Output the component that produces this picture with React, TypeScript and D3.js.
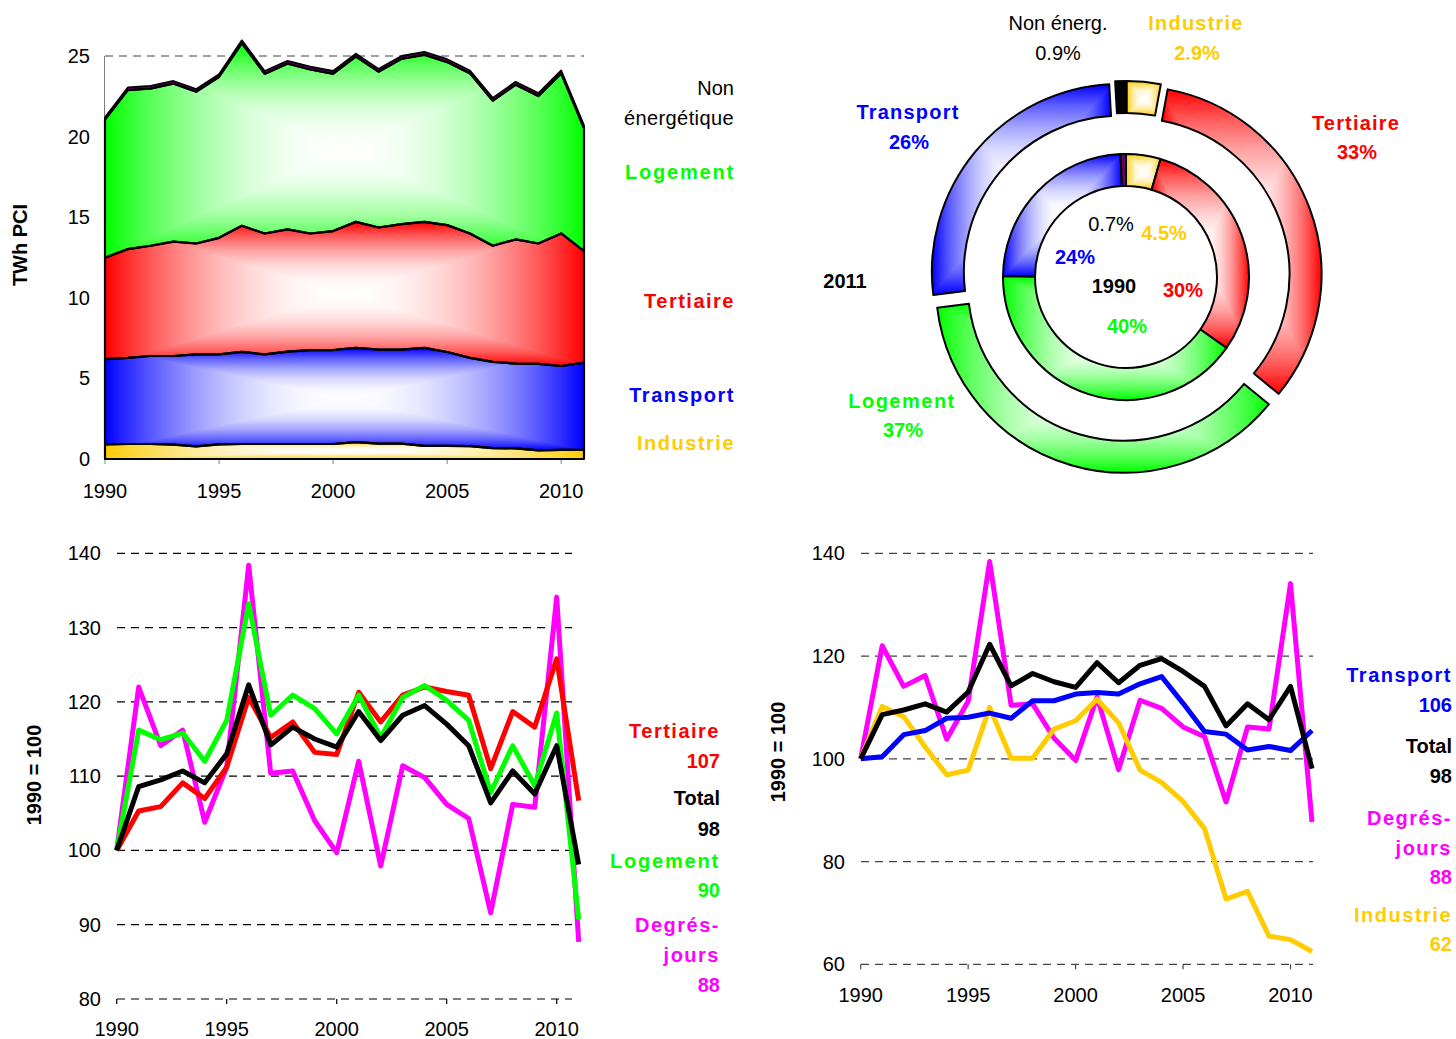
import React from 'react';
import * as d3 from 'd3';

const FONT = "'Liberation Sans', Arial, Helvetica, sans-serif";

// ---------- Data ----------
const YEARS = [1990, 1991, 1992, 1993, 1994, 1995, 1996, 1997, 1998, 1999, 2000, 2001, 2002, 2003, 2004, 2005, 2006, 2007, 2008, 2009, 2010, 2011];
const X_TICKS = [1990, 1995, 2000, 2005, 2010];

// Consumption in TWh PCI by sector (stacked area)
const industrie = [0.91, 0.93, 0.93, 0.89, 0.78, 0.91, 0.93, 0.93, 0.93, 0.93, 0.93, 1.05, 0.95, 0.95, 0.82, 0.82, 0.80, 0.68, 0.66, 0.54, 0.56, 0.56];
const transport = [5.28, 5.34, 5.46, 5.50, 5.71, 5.58, 5.71, 5.56, 5.73, 5.83, 5.83, 5.84, 5.83, 5.83, 6.07, 5.82, 5.47, 5.34, 5.26, 5.36, 5.21, 5.42];
const tertiaire = [6.30, 6.75, 6.84, 7.09, 6.88, 7.23, 7.83, 7.50, 7.58, 7.23, 7.38, 7.82, 7.58, 7.79, 7.82, 7.87, 7.72, 7.21, 7.70, 7.47, 8.22, 6.92];
const logement = [8.56, 9.86, 9.75, 9.80, 9.41, 9.98, 11.32, 9.90, 10.28, 10.17, 9.75, 10.25, 9.66, 10.25, 10.36, 10.11, 9.93, 8.99, 9.59, 9.14, 9.92, 7.61];
const nonEnergetique = [0.15, 0.17, 0.17, 0.17, 0.17, 0.17, 0.18, 0.18, 0.18, 0.18, 0.18, 0.18, 0.18, 0.18, 0.18, 0.18, 0.18, 0.18, 0.19, 0.19, 0.19, 0.19];
const AREA_Y_TICKS = [0, 5, 10, 15, 20, 25];

// Indices 1990 = 100
const idxTotal = [100, 108.6, 109.5, 110.7, 109.1, 113.0, 122.3, 114.2, 116.6, 115.0, 113.9, 118.7, 114.8, 118.2, 119.5, 117.0, 114.1, 106.4, 110.7, 107.6, 114.1, 98.1];
const idxTertiaire = [100, 105.3, 105.9, 109.1, 107.0, 111.2, 120.6, 115.2, 117.3, 113.2, 112.9, 121.3, 117.3, 120.9, 122.0, 121.4, 120.9, 111.0, 118.7, 116.6, 125.8, 106.7];
const idxLogement = [100, 116.2, 114.9, 115.8, 112.0, 117.5, 133.2, 118.2, 120.9, 119.1, 115.7, 120.9, 115.2, 120.6, 122.2, 120.2, 117.5, 107.8, 114.1, 108.7, 118.5, 90.7];
const idxDegresJours = [100, 122.0, 114.1, 116.2, 103.8, 111.2, 138.4, 110.4, 110.7, 104.0, 99.7, 112.0, 97.9, 111.4, 109.8, 106.2, 104.3, 91.6, 106.2, 105.8, 134.1, 87.7];
const idxTransport = [100, 100.4, 104.7, 105.5, 107.9, 108.1, 108.9, 107.9, 111.3, 111.3, 112.6, 112.9, 112.6, 114.6, 116.0, 110.8, 105.3, 104.8, 101.7, 102.4, 101.6, 105.5];
const idxIndustrie = [100, 110.2, 108.2, 102.3, 96.9, 97.8, 110.0, 100.1, 100.1, 105.8, 107.4, 111.6, 107.0, 97.8, 95.4, 91.7, 86.4, 72.7, 74.2, 65.5, 64.8, 62.5];
const BL_Y_TICKS = [80, 90, 100, 110, 120, 130, 140];
const BR_Y_TICKS = [60, 80, 100, 120, 140];

// Labels shown for the last year (as printed on the chart)
const lastLabelsLeft = { tertiaire: 107, total: 98, logement: 90, dj: 88 };
const lastLabelsRight = { transport: 106, total: 98, dj: 88, industrie: 62 };

// Doughnut shares (%), clockwise from 12 o'clock
const ringCategories = ['Industrie', 'Tertiaire', 'Logement', 'Transport', 'Non énerg.'];
const share1990 = [4.5, 30, 40, 24, 0.7];
const share2011 = [2.9, 33, 37, 26, 0.9];

// ---------- Colours ----------
const C: any = {
  industrie: '#FFCC00',
  transport: '#0000FF',
  tertiaire: '#FF0000',
  logement: '#00FF00',
  nonEnerg: '#660066',
  total: '#000000',
  dj: '#FF00FF',
};
const ringColors = [C.industrie, C.tertiaire, C.logement, C.transport];

const STEPS = [0, 0.1, 0.2, 0.3, 0.4, 0.5, 0.6, 0.7, 0.8, 0.9, 1];

// Rectangular "from centre" path gradient: colour at bbox edges, white at centre
function PathGradFill(props: any) {
  const { id, x0, y0, x1, y1, color } = props;
  const cx = (x0 + x1) / 2;
  const cy = (y0 + y1) / 2;
  const mix = d3.interpolateRgb('#ffffff', color);
  const edgeToCentre = STEPS.map((p) => ({ o: p, c: mix((1 - p) * (1 - p)) }));
  const sym = STEPS.map((p) => {
    const t = Math.abs(2 * p - 1);
    return { o: p, c: mix(t * t) };
  });
  return (
    <g>
      <defs>
        <linearGradient id={`${id}-v`} gradientUnits="userSpaceOnUse" x1={0} y1={y0} x2={0} y2={y1}>
          {sym.map((s, i) => (
            <stop key={i} offset={s.o} stopColor={s.c} />
          ))}
        </linearGradient>
        <linearGradient id={`${id}-l`} gradientUnits="userSpaceOnUse" x1={x0} y1={0} x2={cx} y2={0}>
          {edgeToCentre.map((s, i) => (
            <stop key={i} offset={s.o} stopColor={s.c} />
          ))}
        </linearGradient>
        <linearGradient id={`${id}-r`} gradientUnits="userSpaceOnUse" x1={x1} y1={0} x2={cx} y2={0}>
          {edgeToCentre.map((s, i) => (
            <stop key={i} offset={s.o} stopColor={s.c} />
          ))}
        </linearGradient>
      </defs>
      <rect x={x0 - 2} y={y0 - 2} width={x1 - x0 + 4} height={y1 - y0 + 4} fill={color} />
      <rect x={x0} y={y0} width={x1 - x0} height={y1 - y0} fill={`url(#${id}-v)`} />
      <polygon points={`${x0},${y0} ${cx},${cy} ${x0},${y1}`} fill={`url(#${id}-l)`} />
      <polygon points={`${x1},${y0} ${cx},${cy} ${x1},${y1}`} fill={`url(#${id}-r)`} />
    </g>
  );
}

function Txt(props: any) {
  const { x, y, children, anchor = 'middle', bold = false, color = '#000', size = 20, ls = 0, rotate = 0 } = props;
  return (
    <text
      x={rotate ? 0 : x}
      y={rotate ? 0 : y}
      transform={rotate ? `translate(${x},${y}) rotate(${rotate})` : undefined}
      textAnchor={anchor}
      dominantBaseline="central"
      fontWeight={bold ? 'bold' : 'normal'}
      fill={color}
      fontSize={size}
      letterSpacing={ls}
      fontFamily={FONT}
    >
      {children}
    </text>
  );
}

function arcBBox(a: any, ri: number, ro: number) {
  const xs: number[] = [];
  const ys: number[] = [];
  const n = 60;
  for (let k = 0; k <= n; k++) {
    const ang = a.startAngle + ((a.endAngle - a.startAngle) * k) / n;
    for (const r of [ri, ro]) {
      xs.push(r * Math.sin(ang));
      ys.push(-r * Math.cos(ang));
    }
  }
  return { x0: d3.min(xs) as number, x1: d3.max(xs) as number, y0: d3.min(ys) as number, y1: d3.max(ys) as number };
}

export default function App() {
  // ----- Area chart -----
  const xA = d3.scaleLinear().domain([1990, 2011]).range([105, 584]);
  const yA = d3.scaleLinear().domain([0, 25]).range([459, 56]);
  const rows = YEARS.map((year, i) => ({
    year,
    industrie: industrie[i],
    transport: transport[i],
    tertiaire: tertiaire[i],
    logement: logement[i],
    nonEnerg: nonEnergetique[i],
  }));
  const keys = ['industrie', 'transport', 'tertiaire', 'logement', 'nonEnerg'];
  const stacked: any[] = (d3.stack() as any).keys(keys)(rows);
  const areaGen: any = d3
    .area()
    .x((d: any) => xA(d.data.year))
    .y0((d: any) => yA(d[0]))
    .y1((d: any) => yA(d[1]));

  const bands = stacked.map((layer: any) => {
    const top = yA(d3.max(layer, (d: any) => d[1]) as number);
    const bot = yA(d3.min(layer, (d: any) => d[0]) as number);
    return { key: layer.key, d: areaGen(layer), top, bot };
  });

  // ----- Bottom-left line chart -----
  const xL = d3.scaleLinear().domain([1990, 2011]).range([116.7, 578.7]);
  const yL = d3.scaleLinear().domain([80, 140]).range([999, 553.3]);
  const lineL: any = (vals: number[]) =>
    d3.line<number>().x((_, i) => xL(YEARS[i])).y((v) => yL(v))(vals);

  // ----- Bottom-right line chart -----
  const xR = d3.scaleLinear().domain([1990, 2011]).range([860.7, 1312]);
  const yR = d3.scaleLinear().domain([60, 140]).range([964.3, 553.3]);
  const lineR: any = (vals: number[]) =>
    d3.line<number>().x((_, i) => xR(YEARS[i])).y((v) => yR(v))(vals);

  // ----- Doughnut -----
  const cx = 1126;
  const cy = 277;
  const pie = d3.pie<number>().sort(null).value((d) => d);
  const innerArcs = pie(share1990);
  const outerArcs = pie(share2011);
  const RI_IN = 91, RO_IN = 123, RI_OUT = 156, RO_OUT = 188;
  const arcIn: any = d3.arc().innerRadius(RI_IN).outerRadius(RO_IN);
  const arcOut: any = d3.arc().innerRadius(RI_OUT).outerRadius(RO_OUT);
  const explode = 8;

  const lineProps = { fill: 'none', strokeWidth: 5, strokeLinejoin: 'round' as const };

  return (
    <div style={{ position: 'absolute', left: 0, top: 0 }}>
      <svg width={1456} height={1039} style={{ display: 'block', background: '#fff' }} fontFamily={FONT}>
        <defs>
          {bands.map((b) => (
            <clipPath key={b.key} id={`clip-${b.key}`}>
              <path d={b.d} />
            </clipPath>
          ))}
          {innerArcs.map((a, i) => (
            <clipPath key={i} id={`clipin-${i}`}>
              <path d={arcIn(a)} />
            </clipPath>
          ))}
          {outerArcs.map((a, i) => (
            <clipPath key={i} id={`clipout-${i}`}>
              <path d={arcOut(a)} />
            </clipPath>
          ))}
        </defs>

        {/* ================= Top-left: stacked area ================= */}
        <line x1={xA(1990)} x2={xA(2011)} y1={yA(25)} y2={yA(25)} stroke="#808080" strokeWidth={1.5} strokeDasharray="8 6" />
        <line x1={xA(1990) - 0.5} x2={xA(1990) - 0.5} y1={yA(0)} y2={yA(25)} stroke="#808080" strokeWidth={1} />
        <line x1={xA(1990)} x2={xA(2011)} y1={yA(0) + 0.5} y2={yA(0) + 0.5} stroke="#808080" strokeWidth={1} />
        {X_TICKS.map((t) => (
          <line key={t} x1={xA(t)} x2={xA(t)} y1={yA(0)} y2={yA(0) + 5} stroke="#808080" strokeWidth={1} />
        ))}
        {bands.map((b) => {
          const color = C[b.key];
          if (b.key === 'nonEnerg') {
            return <path key={b.key} d={b.d} fill={C.nonEnerg} />;
          }
          return (
            <g key={b.key} clipPath={`url(#clip-${b.key})`}>
              <PathGradFill id={`ag-${b.key}`} x0={xA(1990)} x1={xA(2011)} y0={b.top} y1={b.bot} color={color} />
            </g>
          );
        })}
        {bands.map((b) => (
          <path key={'s' + b.key} d={b.d} fill="none" stroke="#000" strokeWidth={b.key === 'nonEnerg' ? 1.8 : 2.2} strokeLinejoin="round" />
        ))}
        {AREA_Y_TICKS.map((t) => (
          <Txt key={t} x={90} y={yA(t)} anchor="end">
            {t}
          </Txt>
        ))}
        {X_TICKS.map((t) => (
          <Txt key={t} x={xA(t)} y={491}>
            {t}
          </Txt>
        ))}
        <Txt x={20} y={245} bold rotate={-90}>
          TWh PCI
        </Txt>
        <Txt x={734} y={88} anchor="end">Non</Txt>
        <Txt x={734} y={118} anchor="end" ls={0.4}>énergétique</Txt>
        <Txt x={735} y={172} anchor="end" bold color={C.logement} ls={1.8}>Logement</Txt>
        <Txt x={735} y={301} anchor="end" bold color={C.tertiaire} ls={1.5}>Tertiaire</Txt>
        <Txt x={735} y={395} anchor="end" bold color={C.transport} ls={1.5}>Transport</Txt>
        <Txt x={735} y={443} anchor="end" bold color={C.industrie} ls={1.5}>Industrie</Txt>

        {/* ================= Top-right: doughnut ================= */}
        <g transform={`translate(${cx},${cy})`}>
          {innerArcs.map((a, i) => {
            const bb = arcBBox(a, RI_IN, RO_IN);
            return (
              <g key={i}>
                {i === 4 ? (
                  <path d={arcIn(a)} fill={C.nonEnerg} />
                ) : (
                  <g clipPath={`url(#clipin-${i})`}>
                    <PathGradFill id={`gin-${i}`} {...bb} color={ringColors[i]} />
                  </g>
                )}
                <path d={arcIn(a)} fill="none" stroke="#000" strokeWidth={2} strokeLinejoin="round" />
              </g>
            );
          })}
          {outerArcs.map((a, i) => {
            const mid = (a.startAngle + a.endAngle) / 2;
            const dx = explode * Math.sin(mid);
            const dy = -explode * Math.cos(mid);
            const bb = arcBBox(a, RI_OUT, RO_OUT);
            return (
              <g key={i} transform={`translate(${dx},${dy})`}>
                {i === 4 ? (
                  <path d={arcOut(a)} fill="#000" />
                ) : (
                  <g clipPath={`url(#clipout-${i})`}>
                    <PathGradFill id={`gout-${i}`} {...bb} color={ringColors[i]} />
                  </g>
                )}
                <path d={arcOut(a)} fill="none" stroke="#000" strokeWidth={2} strokeLinejoin="round" />
              </g>
            );
          })}
        </g>
        <Txt x={1058} y={23}>Non énerg.</Txt>
        <Txt x={1058} y={53}>{`${share2011[4]}%`}</Txt>
        <Txt x={1196} y={23} bold color={C.industrie} ls={1.2}>{ringCategories[0]}</Txt>
        <Txt x={1197} y={53} bold color={C.industrie}>{`${share2011[0]}%`}</Txt>
        <Txt x={908} y={112} bold color={C.transport} ls={1.2}>{ringCategories[3]}</Txt>
        <Txt x={909} y={142} bold color={C.transport}>{`${share2011[3]}%`}</Txt>
        <Txt x={1356} y={123} bold color={C.tertiaire} ls={1.2}>{ringCategories[1]}</Txt>
        <Txt x={1357} y={152} bold color={C.tertiaire}>{`${share2011[1]}%`}</Txt>
        <Txt x={845} y={281} bold>2011</Txt>
        <Txt x={902} y={401} bold color={C.logement} ls={1.5}>{ringCategories[2]}</Txt>
        <Txt x={903} y={430} bold color={C.logement}>{`${share2011[2]}%`}</Txt>
        <Txt x={1111} y={224}>{`${share1990[4]}%`}</Txt>
        <Txt x={1164} y={233} bold color={C.industrie}>{`${share1990[0]}%`}</Txt>
        <Txt x={1075} y={257} bold color={C.transport}>{`${share1990[3]}%`}</Txt>
        <Txt x={1114} y={286} bold>1990</Txt>
        <Txt x={1183} y={290} bold color={C.tertiaire}>{`${share1990[1]}%`}</Txt>
        <Txt x={1127} y={326} bold color={C.logement}>{`${share1990[2]}%`}</Txt>

        {/* ================= Bottom-left: indices ================= */}
        {BL_Y_TICKS.map((t) => (
          <g key={t}>
            <line x1={117} x2={572} y1={yL(t)} y2={yL(t)} stroke="#000" strokeWidth={1.2} strokeDasharray="8 6" />
            <Txt x={101} y={yL(t)} anchor="end">{t}</Txt>
          </g>
        ))}
        {X_TICKS.map((t) => (
          <g key={t}>
            <line x1={xL(t)} x2={xL(t)} y1={yL(80)} y2={yL(80) + 5} stroke="#000" strokeWidth={1.2} />
            <Txt x={xL(t)} y={1029}>{t}</Txt>
          </g>
        ))}
        <path d={lineL(idxDegresJours)} stroke={C.dj} {...lineProps} />
        <path d={lineL(idxTertiaire)} stroke={C.tertiaire} {...lineProps} />
        <path d={lineL(idxLogement)} stroke={C.logement} {...lineProps} />
        <path d={lineL(idxTotal)} stroke={C.total} {...lineProps} />
        <Txt x={34} y={775} bold rotate={-90}>1990 = 100</Txt>
        <Txt x={720} y={731} anchor="end" bold color={C.tertiaire} ls={1.5}>Tertiaire</Txt>
        <Txt x={720} y={761} anchor="end" bold color={C.tertiaire}>{lastLabelsLeft.tertiaire}</Txt>
        <Txt x={720} y={798} anchor="end" bold>Total</Txt>
        <Txt x={720} y={829} anchor="end" bold>{lastLabelsLeft.total}</Txt>
        <Txt x={720} y={861} anchor="end" bold color={C.logement} ls={1.8}>Logement</Txt>
        <Txt x={720} y={890} anchor="end" bold color={C.logement}>{lastLabelsLeft.logement}</Txt>
        <Txt x={720} y={925} anchor="end" bold color={C.dj} ls={1.5}>Degrés-</Txt>
        <Txt x={720} y={955} anchor="end" bold color={C.dj} ls={1.5}>jours</Txt>
        <Txt x={720} y={985} anchor="end" bold color={C.dj}>{lastLabelsLeft.dj}</Txt>

        {/* ================= Bottom-right: indices ================= */}
        {BR_Y_TICKS.map((t) => (
          <g key={t}>
            <line x1={861} x2={1313} y1={yR(t)} y2={yR(t)} stroke="#444" strokeWidth={1.2} strokeDasharray="8 6" />
            <Txt x={845} y={yR(t)} anchor="end">{t}</Txt>
          </g>
        ))}
        {X_TICKS.map((t) => (
          <g key={t}>
            <line x1={xR(t)} x2={xR(t)} y1={yR(60)} y2={yR(60) + 5} stroke="#444" strokeWidth={1.2} />
            <Txt x={xR(t)} y={995}>{t}</Txt>
          </g>
        ))}
        <path d={lineR(idxDegresJours)} stroke={C.dj} {...lineProps} />
        <path d={lineR(idxIndustrie)} stroke={C.industrie} {...lineProps} />
        <path d={lineR(idxTransport)} stroke={C.transport} {...lineProps} />
        <path d={lineR(idxTotal)} stroke={C.total} {...lineProps} />
        <Txt x={778} y={752} bold rotate={-90}>1990 = 100</Txt>
        <Txt x={1452} y={675} anchor="end" bold color={C.transport} ls={1.5}>Transport</Txt>
        <Txt x={1452} y={705} anchor="end" bold color={C.transport}>{lastLabelsRight.transport}</Txt>
        <Txt x={1452} y={746} anchor="end" bold>Total</Txt>
        <Txt x={1452} y={776} anchor="end" bold>{lastLabelsRight.total}</Txt>
        <Txt x={1452} y={818} anchor="end" bold color={C.dj} ls={1.5}>Degrés-</Txt>
        <Txt x={1452} y={848} anchor="end" bold color={C.dj} ls={1.5}>jours</Txt>
        <Txt x={1452} y={877} anchor="end" bold color={C.dj}>{lastLabelsRight.dj}</Txt>
        <Txt x={1452} y={915} anchor="end" bold color={C.industrie} ls={1.5}>Industrie</Txt>
        <Txt x={1452} y={944} anchor="end" bold color={C.industrie}>{lastLabelsRight.industrie}</Txt>
      </svg>
    </div>
  );
}
